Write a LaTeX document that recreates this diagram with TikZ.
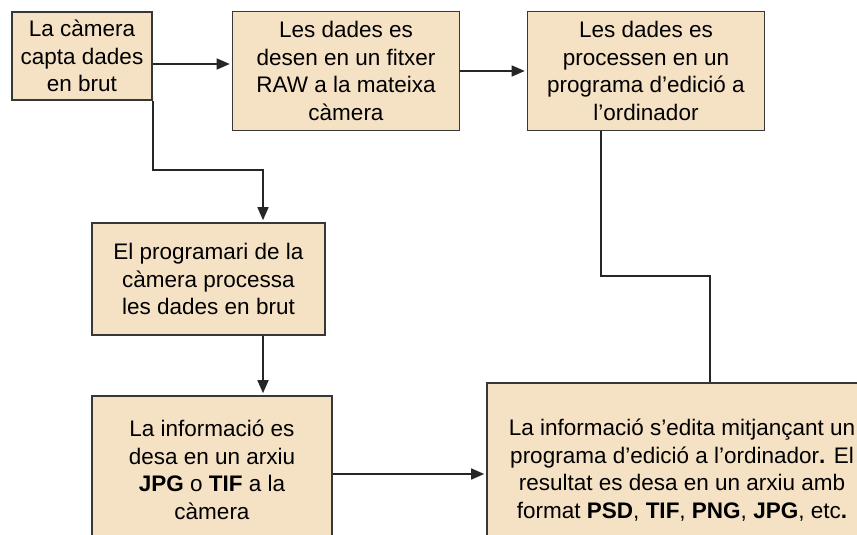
\documentclass[tikz,border=0pt]{standalone}
\usepackage{fontspec}
\setmainfont{Liberation Sans}
\usetikzlibrary{arrows.meta}
\definecolor{boxfill}{RGB}{245,225,196}
\definecolor{boxline}{RGB}{55,55,55}

\begin{document}
\begin{tikzpicture}[x=1pt, y=1pt,
  stepbox/.style={draw=boxline, fill=boxfill, line width=1.6pt, inner sep=0pt,
    align=center, font=\fontsize{22.5}{27.5}\selectfont},
  link/.style={line width=1.5pt, black!85},
  arr/.style={link, -{Triangle[length=13pt,width=11pt]}, shorten >=2pt}]

\useasboundingbox (0,0) rectangle (857,-535);
\clip (0,0) rectangle (857,-535);

\node[stepbox, minimum width=140, minimum height=88] (camera) at (82,-56)
  {La càmera\\capta dades\\en brut};
\node[stepbox, minimum width=227, minimum height=119] (raw) at (346,-71)
  {Les dades es\\desen en un fitxer\\RAW a la mateixa\\càmera};
\node[stepbox, minimum width=237, minimum height=119] (edit) at (646,-71)
  {Les dades es\\processen en un\\programa d’edició a\\l’ordinador};
\node[stepbox, minimum width=233, minimum height=112] (soft) at (208.5,-279)
  {El programari de la\\càmera processa\\les dades en brut};
\node[stepbox, minimum width=240, minimum height=148] (jpg) at (212,-470)
  {La informació es\\desa en un arxiu\\\textbf{JPG} o \textbf{TIF} a la\\càmera};
\node[stepbox, minimum width=390, minimum height=174] (result) at (682,-470)
  {La informació s’edita mitjançant un\\programa d’edició a l’ordinador\textbf{.} El\\resultat es desa en un arxiu amb\\format \textbf{PSD}, \textbf{TIF}, \textbf{PNG}, \textbf{JPG}, etc\textbf{.}};

\coordinate (ab) at ([yshift=7]raw.west);
\coordinate (bendA) at (263,-170);
\coordinate (cdown) at (601,-276);
\coordinate (fup) at (710,-276);

\draw[arr] (camera.east |- ab) -- (ab);
\draw[arr] (raw) -- (edit);
\draw[arr] (camera.south east) |- (bendA) -- (bendA |- soft.north);
\draw[arr] (bendA |- soft.south) -- (bendA |- jpg.north);
\draw[arr] ([yshift=-4]jpg.east) -- ([yshift=-4]jpg.east -| result.west);
\draw[link] (cdown |- edit.south) -- (cdown) -- (fup) -- (fup |- result.north);

\end{tikzpicture}
\end{document}
